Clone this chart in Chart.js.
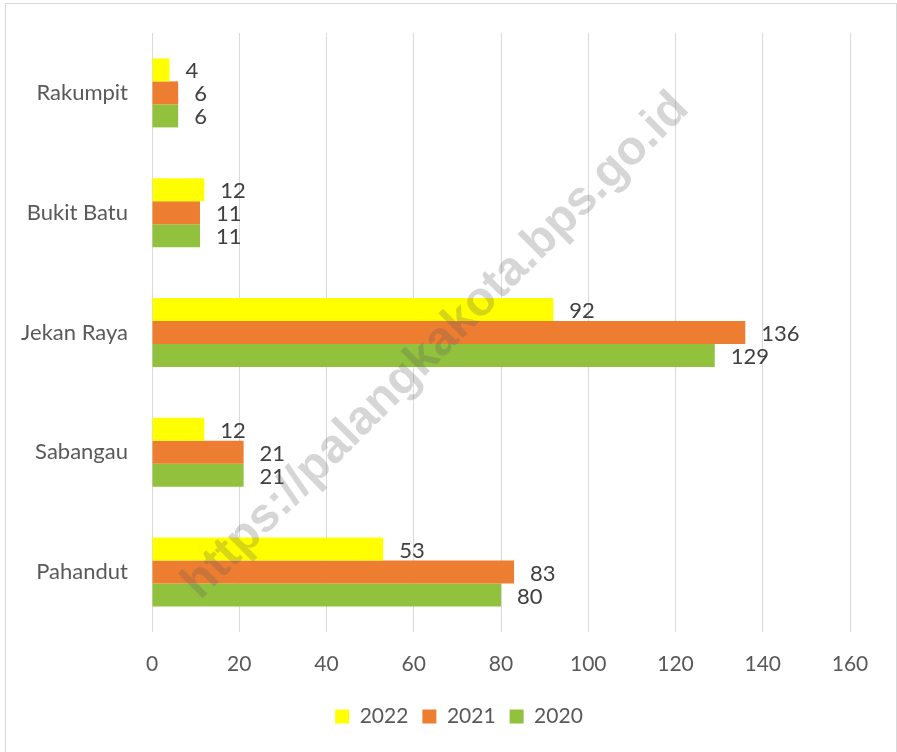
<!DOCTYPE html>
<html>
<head>
<meta charset="utf-8">
<script src="https://cdn.jsdelivr.net/npm/chart.js@4/dist/chart.umd.min.js"></script>
<style>
  body { margin: 0; background: #fff; }
  #frame { position: absolute; left: 5px; top: 3px; width: 892px; height: 760px; border: 1px solid #d9d9d9; box-sizing: border-box; }
  #wrap { position: absolute; left: 0; top: 0; width: 897px; height: 752px; }
</style>
</head>
<body>
<div id="frame"></div>
<div id="wrap"><canvas id="chart"></canvas></div>
<script>
// data
const kecamatan = ['Rakumpit', 'Bukit Batu', 'Jekan Raya', 'Sabangau', 'Pahandut'];
const seriesNames = ['2022', '2021', '2020'];
const v2022 = [4, 12, 92, 12, 53];
const v2021 = [6, 11, 136, 21, 83];
const v2020 = [6, 11, 129, 21, 80];
const xTicks = [0, 20, 40, 60, 80, 100, 120, 140, 160];

const FONT = 'Lato, "Open Sans", sans-serif';

// value labels at the end of each bar
const valueLabels = {
  id: 'valueLabels',
  afterDatasetsDraw(chart) {
    const ctx = chart.ctx;
    ctx.save();
    ctx.font = '22px ' + FONT;
    ctx.fillStyle = '#404040';
    ctx.textAlign = 'left';
    ctx.textBaseline = 'middle';
    chart.data.datasets.forEach((ds, i) => {
      chart.getDatasetMeta(i).data.forEach((bar, j) => {
        ctx.fillText(ds.data[j], bar.x + 16, bar.y + 1.5);
      });
    });
    ctx.restore();
  }
};

// legend sits a bit right of the padded area, like the original
const legendShift = {
  id: 'legendShift',
  afterLayout(chart) {
    chart.legend.left += 34;
    chart.legend.right += 34;
  }
};

// diagonal watermark
const watermark = {
  id: 'watermark',
  afterDraw(chart) {
    const ctx = chart.ctx;
    ctx.save();
    ctx.translate(436, 346);
    ctx.rotate(-Math.PI / 4);
    ctx.font = 'bold 48px "Liberation Sans", Arial, sans-serif';
    ctx.fillStyle = 'rgba(90,90,90,0.25)';
    ctx.textAlign = 'center';
    ctx.textBaseline = 'middle';
    ctx.fillText('https://palangkakota.bps.go.id', 0, 0);
    ctx.restore();
  }
};

new Chart(document.getElementById('chart'), {
  type: 'bar',
  data: {
    labels: kecamatan,
    datasets: [
      { label: seriesNames[0], data: v2022, backgroundColor: '#FFFF00' },
      { label: seriesNames[1], data: v2021, backgroundColor: '#ED7D31' },
      { label: seriesNames[2], data: v2020, backgroundColor: '#92C13E' }
    ]
  },
  options: {
    indexAxis: 'y',
    responsive: true,
    maintainAspectRatio: false,
    animation: false,
    layout: { padding: { left: 0, right: 47, top: 33, bottom: 15 } },
    datasets: { bar: { barPercentage: 1, categoryPercentage: 0.576 } },
    scales: {
      x: {
        min: 0,
        max: 160,
        afterBuildTicks: axis => { axis.ticks = xTicks.map(v => ({ value: v })); },
        afterFit: axis => { axis.height = 60; },
        grid: { color: '#d9d9d9', lineWidth: 1, drawTicks: false },
        border: { display: false },
        ticks: { color: '#595959', font: { family: FONT, size: 21 }, padding: 20 }
      },
      y: {
        grid: { display: false, drawTicks: false },
        border: { display: false },
        afterFit: axis => { axis.width = 152; },
        ticks: { color: '#595959', font: { family: FONT, size: 22, lineHeight: 0.8 }, padding: 24 }
      }
    },
    plugins: {
      legend: {
        position: 'bottom',
        labels: {
          color: '#595959',
          font: { family: FONT, size: 21 },
          boxWidth: 14,
          boxHeight: 14,
          padding: 14
        }
      },
      tooltip: { enabled: false }
    }
  },
  plugins: [valueLabels, legendShift, watermark]
});
</script>
</body>
</html>
